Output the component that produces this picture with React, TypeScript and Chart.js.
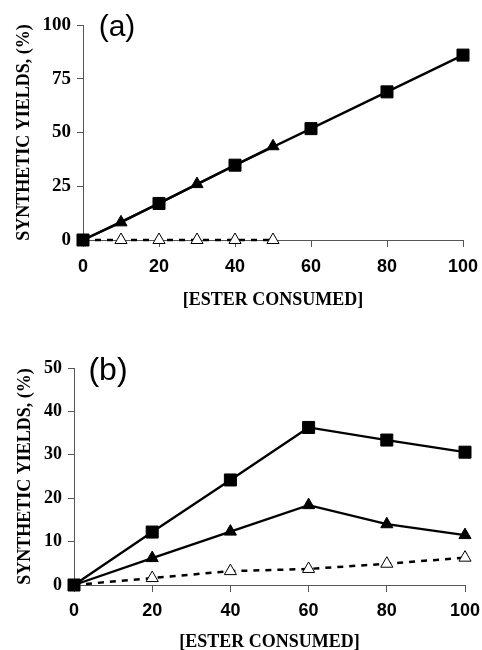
import React, { useEffect, useRef } from "react";
import { Chart, registerables } from "chart.js";

Chart.register(...registerables);

// Panel (a)
const xTicksA = [0, 20, 40, 60, 80, 100];
const yTicksA = [0, 25, 50, 75, 100];
const xA_square = [0, 20, 40, 60, 80, 100];
const yA_square = [0, 17, 34.8, 51.8, 68.9, 86];
const xA_filledTri = [0, 10, 30, 50];
const yA_filledTri = [0, 8.2, 26, 43.6];
const xA_openTri = [0, 10, 20, 30, 40, 50];
const yA_openTri = [0, 0, 0, 0, 0, 0];

// Panel (b)
const xTicksB = [0, 20, 40, 60, 80, 100];
const yTicksB = [0, 10, 20, 30, 40, 50];
const xB = [0, 20, 40, 60, 80, 100];
const yB_square = [0, 12.2, 24.2, 36.3, 33.4, 30.6];
const yB_filledTri = [0, 6.2, 12.3, 18.4, 14, 11.5];
const yB_openTri = [0, 1.6, 3.2, 3.7, 4.9, 6.3];

const xTitle = "[ESTER CONSUMED]";
const yTitle = "SYNTHETIC YIELDS, (%)";

const pts = (xs: number[], ys: number[]) => xs.map((x, i) => ({ x, y: ys[i] }));

const panelLabel = {
  id: "panelLabel",
  afterDraw(chart: any, _args: any, opts: any) {
    const { ctx, chartArea } = chart;
    ctx.save();
    ctx.font = `${opts.size}px "Liberation Sans", Arial, sans-serif`;
    ctx.fillStyle = "#000";
    ctx.textAlign = "center";
    ctx.textBaseline = "middle";
    ctx.fillText(opts.text, chartArea.left + opts.dx, chartArea.top + opts.dy);
    ctx.restore();
  },
};

function makeConfig(p: {
  datasets: any[];
  xTicks: number[];
  yTicks: number[];
  yMax: number;
  yWidth: number;
  xHeight: number;
  padTop: number;
  padRight: number;
  xTickPad: number;
  xTitlePadBottom: number;
  yTitlePadTop: number;
  yTickSize: number;
  label: string;
  labelSize: number;
}) {
  return {
    type: "line" as const,
    data: { datasets: p.datasets },
    plugins: [panelLabel],
    options: {
      responsive: false,
      animation: false as const,
      layout: { padding: { top: p.padTop, right: p.padRight, left: 0, bottom: 0 } },
      plugins: {
        legend: { display: false },
        tooltip: { enabled: false },
        panelLabel: { text: p.label, size: p.labelSize, dx: 34, dy: 3 },
      },
      scales: {
        x: {
          type: "linear" as const,
          min: 0,
          max: 100,
          afterBuildTicks: (s: any) => {
            s.ticks = p.xTicks.map((v) => ({ value: v }));
          },
          afterFit: (s: any) => {
            s.height = p.xHeight;
            s.paddingLeft = 0;
            s.paddingRight = 0;
          },
          grid: { drawOnChartArea: false, drawTicks: true, tickLength: 7, color: "#555" },
          border: { display: true, color: "#555", width: 1 },
          ticks: {
            padding: p.xTickPad,
            color: "#000",
            font: { family: '"Liberation Sans", Arial, sans-serif', weight: "bold" as const, size: 18 },
          },
          title: {
            display: true,
            text: xTitle,
            color: "#000",
            padding: { top: 0, bottom: p.xTitlePadBottom },
            font: { family: '"Liberation Serif", "Times New Roman", serif', weight: "bold" as const, size: 18 },
          },
        },
        y: {
          type: "linear" as const,
          min: 0,
          max: p.yMax,
          afterBuildTicks: (s: any) => {
            s.ticks = p.yTicks.map((v) => ({ value: v }));
          },
          afterFit: (s: any) => {
            s.width = p.yWidth;
            s.paddingTop = 0;
            s.paddingBottom = 0;
          },
          grid: { drawOnChartArea: false, drawTicks: true, tickLength: 6, color: "#555" },
          border: { display: true, color: "#555", width: 1 },
          ticks: {
            padding: 6,
            color: "#000",
            font: { family: '"Liberation Serif", "Times New Roman", serif', weight: "bold" as const, size: p.yTickSize },
          },
          title: {
            display: true,
            text: yTitle,
            color: "#000",
            padding: { top: p.yTitlePadTop, bottom: 0 },
            font: { family: '"Liberation Serif", "Times New Roman", serif', weight: "bold" as const, size: 18 },
          },
        },
      },
    },
  };
}

const hideAtZero = (r: number) => (c: any) => (c.raw && c.raw.x === 0 ? 0 : r);

const squareDs = (data: any[]) => ({
  data,
  borderColor: "#000",
  backgroundColor: "#000",
  borderWidth: 2.3,
  pointStyle: "rect",
  pointRadius: 8.5,
  pointBorderWidth: 1,
  pointBackgroundColor: "#000",
  pointBorderColor: "#000",
  clip: false,
});
const filledTriDs = (data: any[]) => ({
  data,
  borderColor: "#000",
  backgroundColor: "#000",
  borderWidth: 2.3,
  pointStyle: "triangle",
  pointRadius: hideAtZero(7),
  pointBorderWidth: 1,
  pointBackgroundColor: "#000",
  pointBorderColor: "#000",
  clip: false,
});
const openTriDs = (data: any[]) => ({
  data,
  borderColor: "#000",
  backgroundColor: "#fff",
  borderWidth: 2.5,
  borderDash: [6, 6],
  pointStyle: "triangle",
  pointRadius: hideAtZero(7),
  pointBorderWidth: 1,
  pointBackgroundColor: "#fff",
  pointBorderColor: "#000",
  clip: false,
});

export default function App() {
  const refA = useRef<HTMLCanvasElement>(null);
  const refB = useRef<HTMLCanvasElement>(null);

  useEffect(() => {
    const cA = new Chart(
      refA.current!,
      makeConfig({
        datasets: [
          squareDs(pts(xA_square, yA_square)),
          filledTriDs(pts(xA_filledTri, yA_filledTri)),
          openTriDs(pts(xA_openTri, yA_openTri)),
        ],
        xTicks: xTicksA,
        yTicks: yTicksA,
        yMax: 100,
        yWidth: 83,
        xHeight: 80,
        padTop: 25,
        padRight: 19,
        xTickPad: 9,
        xTitlePadBottom: 9,
        yTitlePadTop: 14,
        yTickSize: 19,
        label: "(a)",
        labelSize: 30,
      }) as any
    );
    const cB = new Chart(
      refB.current!,
      makeConfig({
        datasets: [
          squareDs(pts(xB, yB_square)),
          filledTriDs(pts(xB, yB_filledTri)),
          openTriDs(pts(xB, yB_openTri)),
        ],
        xTicks: xTicksB,
        yTicks: yTicksB,
        yMax: 50,
        yWidth: 74,
        xHeight: 65,
        padTop: 48,
        padRight: 17,
        xTickPad: 8,
        xTitlePadBottom: -3,
        yTitlePadTop: 15,
        yTickSize: 18,
        label: "(b)",
        labelSize: 32,
      }) as any
    );
    return () => {
      cA.destroy();
      cB.destroy();
    };
  }, []);

  return (
    <div style={{ position: "absolute", left: 0, top: 0, width: 482, height: 650, background: "#fff" }}>
      <canvas ref={refA} width={482} height={320} style={{ position: "absolute", left: 0, top: 0, display: "block" }} />
      <canvas ref={refB} width={482} height={330} style={{ position: "absolute", left: 0, top: 320, display: "block" }} />
    </div>
  );
}
